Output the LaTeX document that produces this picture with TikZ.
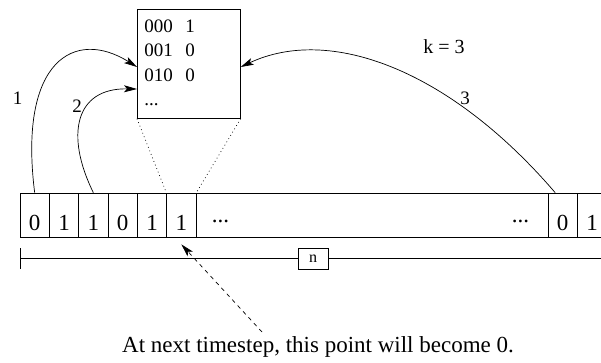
\documentclass[tikz,border=0pt]{standalone}
\usepackage{fontspec}
\setmainfont{Liberation Serif}
\usetikzlibrary{arrows.meta,calc}
\begin{document}
\begin{tikzpicture}[x=1pt,y=-1pt,line width=0.7pt,
  cell/.style={draw,minimum width=29.33pt,minimum height=44pt,inner sep=0pt,
    text height=30pt,text depth=0pt,font=\fontsize{23}{26}\selectfont},
  longcell/.style={draw,minimum width=352pt,minimum height=44pt,inner sep=0pt},
  dotsty/.style={font=\fontsize{23}{26}\selectfont,inner sep=0pt,anchor=base},
  lbl/.style={font=\fontsize{19}{22}\selectfont,inner sep=0pt},
  row/.style={anchor=base west,inner sep=0pt,font=\fontsize{19}{22}\selectfont},
  tip/.style={-{Stealth[length=13pt,width=7pt,inset=3pt]}},
  dotline/.style={dash pattern=on 0.8pt off 3pt},
]
\useasboundingbox (0,0) rectangle (601,362);
\clip (0,0) rectangle (601,362);

% tape
\node[cell] (c1) at (34.67,215) {0};
\node[cell] (c2) at (64,215) {1};
\node[cell] (c3) at (93.33,215) {1};
\node[cell] (c4) at (122.67,215) {0};
\node[cell] (c5) at (152,215) {1};
\node[cell] (c6) at (181.33,215) {1};
\node[longcell] (c7) at (372,215) {};
\node[dotsty] (d1) at (220.5,222) {...};
\node[dotsty] (d2) at (520.5,222) {...};
\node[cell] (c8) at (562.67,215) {0};
\node[cell] (c9) at (592,215) {1};

% table
\node[draw,minimum width=103pt,minimum height=109pt,inner sep=0pt,anchor=north west] (tab) at (137,9) {};
\node[row] (r1) at (144,32) {\makebox[41pt][l]{000}1};
\node[row] (r2) at (144,56.5) {\makebox[41pt][l]{001}0};
\node[row] (r3) at (144,81) {\makebox[41pt][l]{010}0};
\node[row] (r4) at (144,105) {...};

% dotted zoom lines
\draw[dotline] (tab.south west) -- (c6.north west);
\draw[dotline] (tab.south east) -- (c6.north east);

% arrows
\coordinate (e1) at ($(tab.north west)+(0,58)$);
\coordinate (e2) at ($(tab.north west)+(0,80)$);
\coordinate (e3) at ($(tab.north east)+(0,58)$);
\coordinate (s3) at ($(c8.north)+(-7.5,0)$);
\draw[tip] (c1.north) .. controls (18,60) and (75,28) .. (e1);
\draw[tip] (c3.north) .. controls (65,135) and (75,88) .. (e2);
\draw[tip] (s3) .. controls (450,70) and (330,25) .. (e3);

\node[lbl] (l1) at (17.5,98) {1};
\node[lbl] (l2) at (77,106) {2};
\node[lbl] (l3) at (465,98) {3};
\node[font=\fontsize{20}{22}\selectfont,inner sep=0pt] (k) at (444,47) {k = 3};

% ruler
\coordinate (rl) at (20,258.5);
\coordinate (rr) at (601,258.5);
\draw (20,248) -- (20,269);
\node[draw,minimum width=30pt,minimum height=21pt,inner sep=0pt,font=\fontsize{16}{18}\selectfont] (n) at (313,258.5) {n};
\draw (rl) -- (n.west);
\draw (n.east) -- (rr);

% note
\node[anchor=base,inner sep=0pt,font=\fontsize{23}{26}\selectfont] (note) at (318,352) {At next timestep, this point will become 0.};
\coordinate (ds) at (262,332);
\draw[tip,dash pattern=on 4pt off 4pt] (ds) -- ($(c6.south)+(0,7)$);
\end{tikzpicture}
\end{document}
